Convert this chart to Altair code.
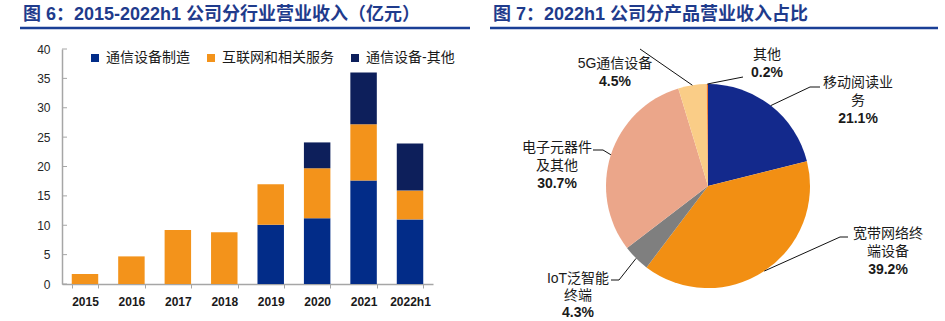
import math
import altair as alt
import pandas as pd

# ---------------- data ----------------
years = ["2015", "2016", "2017", "2018", "2019", "2020", "2021", "2022h1"]
manuf = [0, 0, 0, 0, 10.1, 11.2, 17.6, 11.0]          # 通信设备制造
internet = [1.7, 4.7, 9.2, 8.8, 6.9, 8.5, 9.6, 4.9]   # 互联网和相关服务
comm_other = [0, 0, 0, 0, 0, 4.4, 8.8, 8.0]           # 通信设备-其他
series_names = ["通信设备制造", "互联网和相关服务", "通信设备-其他"]
y_ticks = [0, 5, 10, 15, 20, 25, 30, 35, 40]

products = ["移动阅读业务", "宽带网络终端设备", "IoT泛智能终端", "电子元器件及其他", "5G通信设备", "其他"]
shares = [21.1, 39.2, 4.3, 30.7, 4.5, 0.2]
label_lines = [["移动阅读业", "务"], ["宽带网络终", "端设备"], ["IoT泛智能", "终端"],
               ["电子元器件", "及其他"], ["5G通信设备"], ["其他"]]
pct_labels = ["21.1%", "39.2%", "4.3%", "30.7%", "4.5%", "0.2%"]

title_left = "图 6：2015-2022h1 公司分行业营业收入（亿元）"
title_right = "图 7：2022h1 公司分产品营业收入占比"

# ---------------- styles / layout ----------------
FONT = "Liberation Sans, Noto Sans CJK SC"
W, H = 945, 321
series_colors = ["#022C88", "#F3931B", "#0D1F5B"]
product_colors = ["#13298C", "#F28F13", "#7F7F7F", "#EBA68A", "#FACD87", "#ED7D31"]
AXIS_GRAY = "#a6a6a6"
TITLE_BLUE = "#1F3B8C"
LINE_BLUE = "#1A3F96"

BAR_X = [62, 433]
BAR_Y = [284, 49]
PIE_C = (708, 186)
PIE_R = 102
# label anchor (center x, first line y, line spacing) and leader tail points (after the slice edge point)
label_anchor = [(858, 83, 18), (888, 234, 18), (578, 279, 17), (557, 148, 18), (615, 64, 18), (767, 55, 18)]
leader_tail = [[(810, 87), (820, 87)], [(840, 237), (848, 237)], [(619, 280), (611, 280)],
               [(603, 150), (593, 150)], [(640, 49)], [(743, 77)]]
title_pos = [(23, 15), (493, 15)]
underline_pos = [(20, 470, 28), (490, 938, 28)]

# ---------------- tables ----------------
bar_rows = []
for i, y in enumerate(years):
    for s, vals in enumerate([manuf, internet, comm_other]):
        if vals[i] > 0:
            bar_rows.append({"year": y, "series": series_names[s], "value": vals[i], "sidx": s})
bar_df = pd.DataFrame(bar_rows)
tick_df = pd.DataFrame({"t": y_ticks})

pie_df = pd.DataFrame({"product": products, "share": shares, "pidx": list(range(len(products)))})

total = sum(shares)
lead_rows, name_rows, pct_rows = [], [], []
cum = 0.0
for i, p in enumerate(products):
    mid = (cum + shares[i] / 2) / total * 2 * math.pi
    cum += shares[i]
    sx = PIE_C[0] + PIE_R * math.sin(mid)
    sy = PIE_C[1] - PIE_R * math.cos(mid)
    pts = [(sx, sy)] + leader_tail[i]
    for k, (px, py) in enumerate(pts):
        lead_rows.append({"lid": p, "k": k, "px": px, "py": py})
    ax, ay, lh = label_anchor[i]
    for j, line in enumerate(label_lines[i]):
        name_rows.append({"txt": line, "px": ax, "py": ay + j * lh})
    pct_rows.append({"txt": pct_labels[i], "px": ax, "py": ay + len(label_lines[i]) * lh})
lead_df = pd.DataFrame(lead_rows)
name_df = pd.DataFrame(name_rows)
pct_df = pd.DataFrame(pct_rows)
title_df = pd.DataFrame({"txt": [title_left, title_right],
                         "px": [p[0] for p in title_pos], "py": [p[1] for p in title_pos]})
ul_df = pd.DataFrame({"x1": [u[0] for u in underline_pos], "x2": [u[1] for u in underline_pos],
                      "py": [u[2] for u in underline_pos]})


def xs():
    return alt.Scale(domain=[0, W], range=[0, W], nice=False, zero=False)


def ys():
    return alt.Scale(domain=[0, H], range=[0, H], nice=False, zero=False)


# ---------------- layers ----------------
titles = alt.Chart(title_df).mark_text(align="left", baseline="middle", font=FONT, fontSize=18,
                                       fontWeight="bold", color=TITLE_BLUE).encode(
    x=alt.X("px:Q", scale=xs(), axis=None), y=alt.Y("py:Q", scale=ys(), axis=None), text="txt:N")

underlines = alt.Chart(ul_df).mark_rule(color=LINE_BLUE, strokeWidth=2.5).encode(
    x=alt.X("x1:Q", scale=xs(), axis=None), x2="x2:Q", y=alt.Y("py:Q", scale=ys(), axis=None))

bars = alt.Chart(bar_df).mark_bar().encode(
    x=alt.X("year:N", sort=years,
            scale=alt.Scale(domain=years, range=BAR_X, paddingInner=0.43, paddingOuter=0.21),
            axis=alt.Axis(title=None, orient="bottom", offset=-(H - BAR_Y[0]), labelAngle=0,
                          labelFont=FONT, labelFontSize=12, labelFontWeight="bold",
                          labelColor="#1a1a1a", tickBand="extent", tickSize=4, tickColor=AXIS_GRAY,
                          tickWidth=1, domainColor=AXIS_GRAY, domainWidth=1.5, labelPadding=8,
                          grid=False)),
    y=alt.Y("value:Q", stack="zero",
            scale=alt.Scale(domain=[0, 40], range=BAR_Y, nice=False, zero=True),
            axis=alt.Axis(values=y_ticks, title=None, orient="left", offset=-BAR_X[0], ticks=False,
                          tickSize=0, labelPadding=12, labelFont=FONT, labelFontSize=12,
                          labelColor="#262626", domainColor=AXIS_GRAY, domainWidth=1.5, grid=False)),
    color=alt.Color("series:N", scale=alt.Scale(domain=series_names, range=series_colors),
                    legend=alt.Legend(title=None, orient="none", legendX=88, legendY=51,
                                      direction="horizontal", symbolType="square", symbolSize=64,
                                      symbolStrokeWidth=0, symbolOpacity=1, labelFont=FONT,
                                      labelFontSize=14, labelColor="#1a1a1a", columnPadding=14,
                                      labelOffset=4, padding=0)),
    order=alt.Order("sidx:Q"),
)

yticks = alt.Chart(tick_df).mark_rule(color=AXIS_GRAY, strokeWidth=1).encode(
    y=alt.Y("t:Q", scale=alt.Scale(domain=[0, 40], range=BAR_Y, nice=False, zero=True), axis=None),
    x=alt.value(BAR_X[0]), x2=alt.value(BAR_X[0] + 5))

pie = alt.Chart(pie_df).mark_arc(radius=PIE_R).encode(
    theta=alt.Theta("share:Q", stack=True),
    color=alt.Color("product:N", scale=alt.Scale(domain=products, range=product_colors), legend=None),
    order=alt.Order("pidx:Q"),
    x=alt.value(PIE_C[0]), y=alt.value(PIE_C[1]),
)

leaders = alt.Chart(lead_df).mark_line(color="#111111", strokeWidth=1).encode(
    x=alt.X("px:Q", scale=xs(), axis=None), y=alt.Y("py:Q", scale=ys(), axis=None),
    detail="lid:N", order="k:Q")

names = alt.Chart(name_df).mark_text(align="center", baseline="middle", font=FONT, fontSize=14,
                                     color="#1a1a1a").encode(
    x=alt.X("px:Q", scale=xs(), axis=None), y=alt.Y("py:Q", scale=ys(), axis=None), text="txt:N")

pcts = alt.Chart(pct_df).mark_text(align="center", baseline="middle", font=FONT, fontSize=14,
                                   fontWeight="bold", color="#1a1a1a").encode(
    x=alt.X("px:Q", scale=xs(), axis=None), y=alt.Y("py:Q", scale=ys(), axis=None), text="txt:N")

chart = alt.layer(titles, underlines, bars, yticks, pie, leaders, names, pcts).resolve_scale(
    x="independent", y="independent", color="independent"
).properties(
    width=W, height=H, autosize=alt.AutoSizeParams(type="none"), padding=0
).configure_view(stroke=None)

chart.save("out.html", embed_options={"renderer": "svg", "actions": False})
